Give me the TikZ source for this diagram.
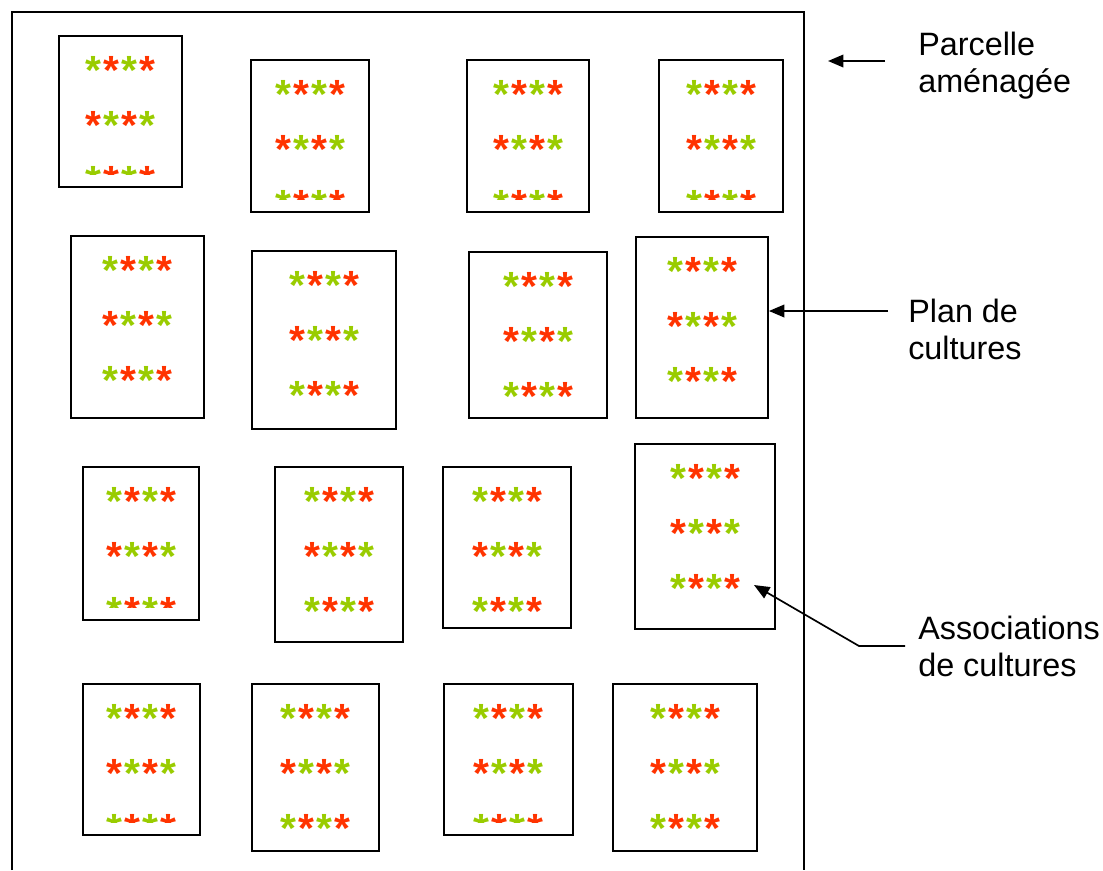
\documentclass[tikz,border=0pt]{standalone}
\usepackage{fontspec}
\setmainfont{Liberation Sans}
\usetikzlibrary{arrows.meta}
\definecolor{leaf}{RGB}{153,204,0}
\definecolor{flower}{RGB}{255,51,0}
\newcommand\gs{\textcolor{leaf}{*}}
\newcommand\rs{\textcolor{flower}{*}}
\newcommand\sk{\kern1.5pt}
\tikzset{
  plotbox/.style={draw, line width=1.3pt, inner sep=0pt},
  stars/.style={inner sep=0pt, anchor=base, font=\fontsize{29}{29}\selectfont\bfseries},
  note/.style={anchor=north west, inner sep=0pt, align=left, font=\fontsize{23}{26}\selectfont},
  pointer/.style={-{Triangle[length=11pt,width=9pt]}, line width=1.2pt}
}
\begin{document}
\begin{tikzpicture}[x=0.025cm,y=-0.025cm]
  \useasboundingbox (0,0) rectangle (1103,870);
  % parcelle
  \draw[line width=1pt] (12,870) -- (12,12) -- (804,12) -- (804,870);
  % plan de cultures
  \foreach \n/\xa/\ya/\xb/\yb in {1/59/36/182/187, 2/251/60/369/212, 3/467/60/589/212,
      4/659/60/783/212, 5/71/236/204/418, 6/252/251/396/429, 7/469/252/607/418,
      8/636/237/768/418, 9/83/467/199/620, 10/275/467/403/642, 11/443/467/571/628,
      12/635/444/775/629, 13/83/684/200/835, 14/252/684/379/851, 15/444/684/573/835,
      16/613/684/757/851}{
    \node[plotbox, minimum width={(\xb-\xa)*0.025cm}, minimum height={(\yb-\ya)*0.025cm}]
      (p\n) at ({(\xa+\xb)/2},{(\ya+\yb)/2}) {};
    \begin{scope}
      \clip (\xa,\ya) rectangle (\xb,\yb-13);
      \node[stars] (s\n a) at ({(\xa+\xb)/2},\ya+48) {\gs\sk\rs\sk\gs\sk\rs};
      \node[stars] (s\n b) at ({(\xa+\xb)/2},\ya+103) {\rs\sk\gs\sk\rs\sk\gs};
      \node[stars] (s\n c) at ({(\xa+\xb)/2},\ya+158) {\gs\sk\rs\sk\gs\sk\rs};
    \end{scope}
  }
  % legendes
  \node[note] (parcelle) at (918,32) {Parcelle\\aménagée};
  \node[note] (plan) at (908,299) {Plan de\\cultures};
  \node[note] (assoc) at (918,616) {Associations\\de cultures};
  \coordinate (s1) at (885,61);
  \coordinate (t1) at (828,61);
  \coordinate (s2) at (888,311);
  \coordinate (s3) at (905,646);
  \coordinate (k3) at (859,646);
  \coordinate (t3) at (754,585);
  \draw[pointer] (s1) -- (t1);
  \draw[pointer] (s2) -- (s2 -| p8.east);
  \draw[pointer] (s3) -- (k3) -- (t3);
\end{tikzpicture}
\end{document}
